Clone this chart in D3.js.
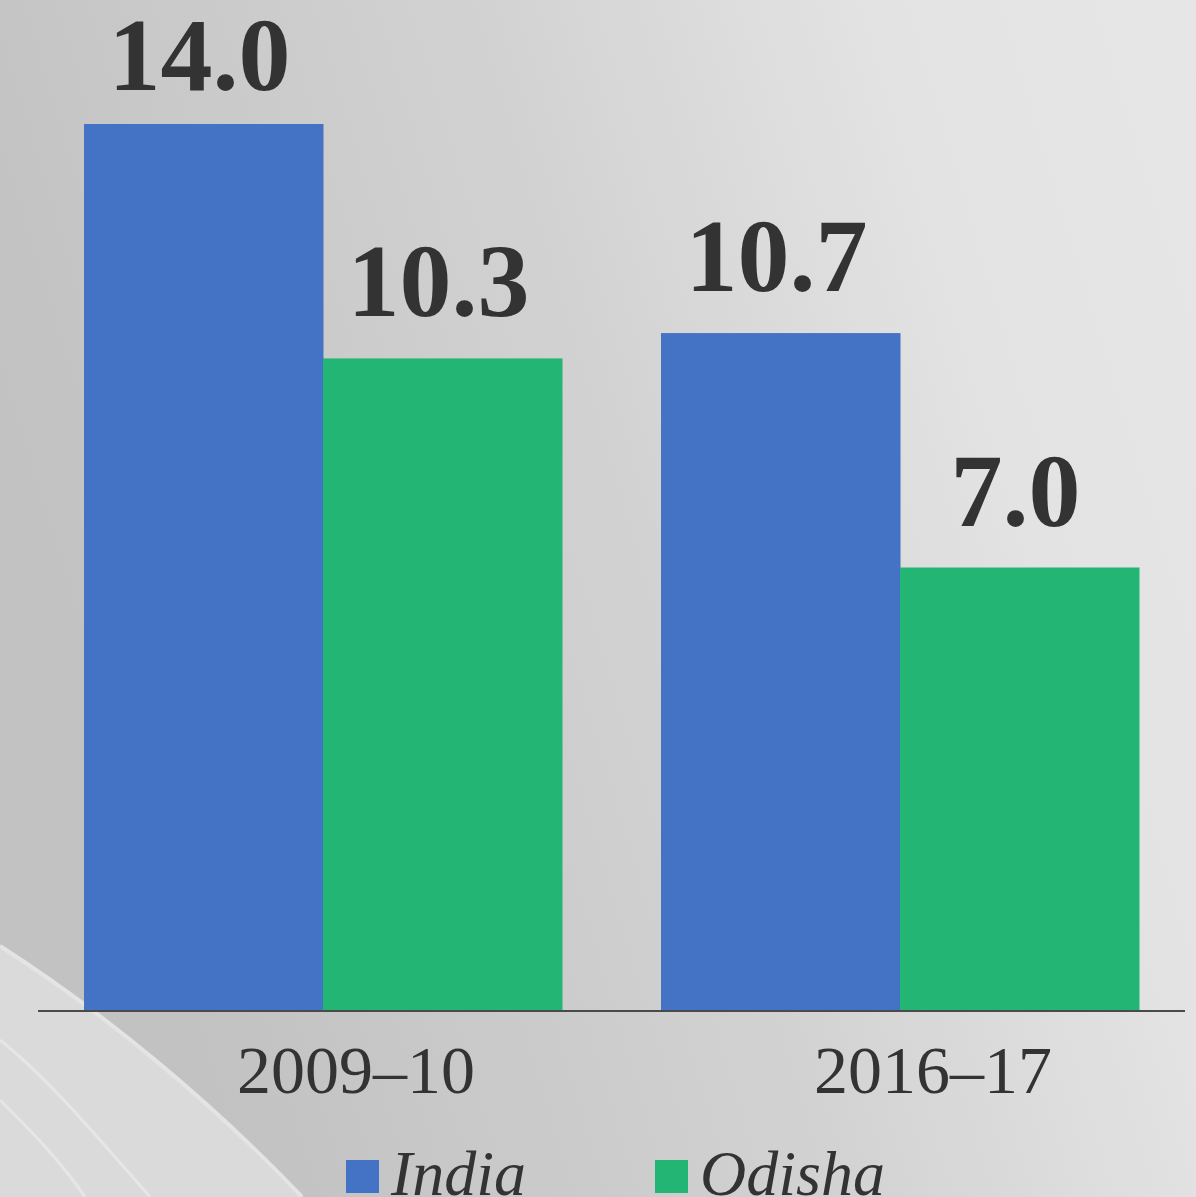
<!DOCTYPE html>
<html>
<head>
<meta charset="utf-8">
<script src="https://cdn.jsdelivr.net/npm/d3@7"></script>
<style>
  body { margin: 0; overflow: hidden; }
  svg { display: block; }
</style>
</head>
<body>
<svg id="chart" width="1196" height="1197"></svg>
<script>
// chart data
const years = ["2009-10", "2016-17"];
const seriesNames = ["India", "Odisha"];
const india = [14.0, 10.7];
const odisha = [10.3, 7.0];
const colors = ["#4472c4", "#23b574"];

const svg = d3.select("#chart");
const width = 1196, height = 1197;
const baseY = 1011;

// background gradient
const defs = svg.append("defs");
const bg = defs.append("linearGradient").attr("id", "bg")
  .attr("x1", "0%").attr("y1", "30%").attr("x2", "100%").attr("y2", "0%");
bg.append("stop").attr("offset", "0%").attr("stop-color", "#c2c2c2");
bg.append("stop").attr("offset", "45%").attr("stop-color", "#d2d2d2");
bg.append("stop").attr("offset", "75%").attr("stop-color", "#e3e3e3");
bg.append("stop").attr("offset", "100%").attr("stop-color", "#e6e6e6");
svg.append("rect").attr("width", width).attr("height", height).attr("fill", "url(#bg)");

// light swoosh bottom-left
const swoosh = svg.append("g");
swoosh.append("path")
  .attr("d", "M0,946 C100,1010 210,1100 302,1197 L0,1197 Z")
  .attr("fill", "#dadada");
swoosh.append("path")
  .attr("d", "M0,1040 C50,1080 100,1140 150,1197")
  .attr("fill", "none").attr("stroke", "#e6e6e6").attr("stroke-width", 3);
swoosh.append("path")
  .attr("d", "M0,1100 C30,1130 60,1160 85,1197")
  .attr("fill", "none").attr("stroke", "#e6e6e6").attr("stroke-width", 3);
swoosh.append("path")
  .attr("d", "M0,946 C100,1010 210,1100 302,1197")
  .attr("fill", "none").attr("stroke", "#e4e4e4").attr("stroke-width", 4);

// scales
const x0 = d3.scaleBand().domain(years).range([84, 1139]).paddingInner(0.1716).paddingOuter(0);
const x1 = d3.scaleBand().domain(seriesNames).range([0, x0.bandwidth()]);
const y = d3.scaleLinear().domain([0, 14]).range([baseY, 124]);

const rows = years.map((yr, i) => ({ year: yr, values: [india[i], odisha[i]] }));

const groups = svg.append("g").selectAll("g")
  .data(rows).join("g")
  .attr("transform", d => `translate(${x0(d.year)},0)`);

groups.selectAll("rect")
  .data(d => d.values.map((v, j) => ({ name: seriesNames[j], value: v, j })))
  .join("rect")
  .attr("x", d => x1(d.name))
  .attr("y", d => y(d.value))
  .attr("width", x1.bandwidth() + 0.5)
  .attr("height", d => baseY - y(d.value))
  .attr("fill", d => colors[d.j]);

// value labels
groups.selectAll("text")
  .data(d => d.values.map((v, j) => ({ name: seriesNames[j], value: v })))
  .join("text")
  .attr("x", d => x1(d.name) + x1.bandwidth() / 2 - 4)
  .attr("y", d => Math.max(y(d.value) - 42, 90))
  .attr("text-anchor", "middle")
  .attr("font-family", "Liberation Serif, serif")
  .attr("font-weight", "bold")
  .attr("font-size", 104)
  .attr("fill", "#333")
  .text(d => d.value.toFixed(1));

// x axis line
svg.append("line")
  .attr("x1", 38).attr("x2", 1185)
  .attr("y1", baseY).attr("y2", baseY)
  .attr("stroke", "#4a4a4a").attr("stroke-width", 2);

// category labels
svg.append("g").selectAll("text")
  .data(years).join("text")
  .attr("x", d => x0(d) + 153)
  .attr("y", 1093)
  .attr("font-family", "Liberation Serif, serif")
  .attr("font-size", 68)
  .attr("fill", "#333")
  .text(d => d.replace("-", "\u2013"));

// legend
const legendX = [346, 655];
const legend = svg.append("g").selectAll("g")
  .data(seriesNames).join("g")
  .attr("transform", (d, i) => `translate(${legendX[i]},1160)`);
legend.append("rect")
  .attr("width", 33).attr("height", 33)
  .attr("fill", (d, i) => colors[i]);
legend.append("text")
  .attr("x", 45).attr("y", 35)
  .attr("font-family", "Liberation Serif, serif")
  .attr("font-style", "italic")
  .attr("font-size", 64)
  .attr("fill", "#333")
  .text(d => d);
</script>
</body>
</html>
